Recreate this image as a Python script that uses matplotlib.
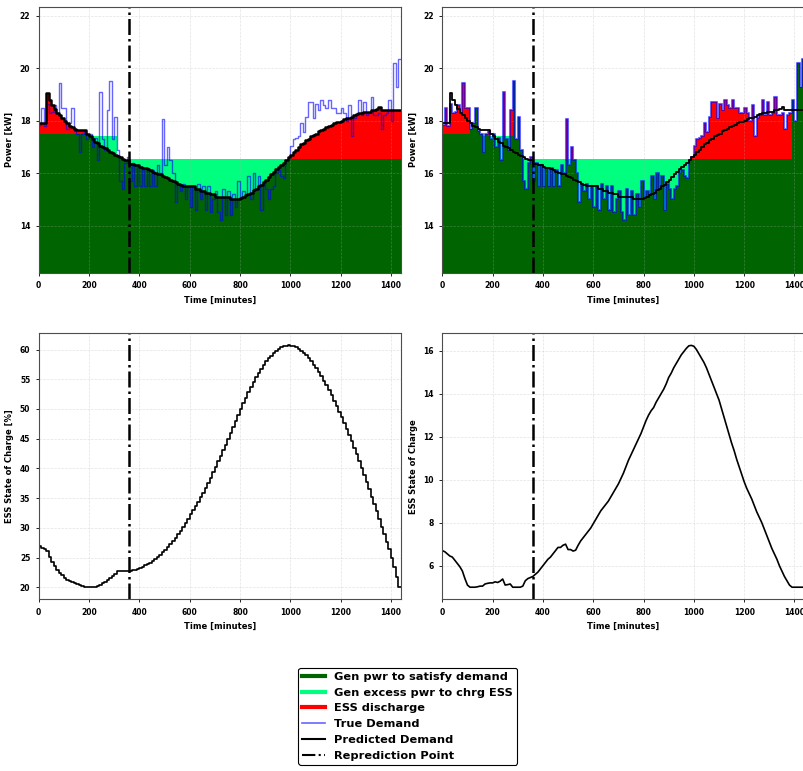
import numpy as np
import matplotlib
matplotlib.use('Agg')
import matplotlib.pyplot as plt
from matplotlib.lines import Line2D
from matplotlib.ticker import MultipleLocator

plt.rcParams['font.family'] = 'DejaVu Sans'
plt.rcParams['font.weight'] = 'bold'
plt.rcParams['axes.labelweight'] = 'bold'

# 10-minute resolution over one day
STEP = 10
REPRED_T = 360

true_demand = [
    17.85, 18.5, 17.8, 18.65, 18.3, 18.35, 18.6, 18.3, 19.45, 18.5,
    18.5, 17.7, 17.9, 18.5, 17.6, 17.5, 16.8, 17.5, 17.6, 17.3,
    17.5, 17.0, 17.35, 16.5, 19.1, 17.3, 16.9, 18.4, 19.5, 17.3,
    18.15, 16.9, 15.7, 15.4, 16.4, 16.6, 15.7, 16.4, 15.5, 16.3,
    15.5, 16.2, 15.5, 16.2, 15.5, 16.1, 15.5, 16.3, 16.0, 18.05,
    16.3, 17.0, 16.5, 16.0, 14.9, 15.6, 15.3, 15.6, 15.0, 15.5,
    14.7, 15.5, 14.6, 15.6, 15.0, 15.5, 14.6, 15.5, 14.5, 15.0,
    15.3, 14.5, 14.2, 15.4, 14.4, 15.3, 14.4, 15.2, 14.7, 15.7,
    15.1, 15.3, 15.2, 15.9, 15.0, 16.0, 15.4, 15.9, 14.6, 15.6,
    15.4, 15.0, 15.4, 15.5, 16.0, 16.1, 15.9, 15.8, 16.5, 16.6,
    17.05, 17.3, 17.35, 17.4, 17.9, 17.55, 18.15, 18.7, 18.7, 18.1,
    18.65, 18.4, 18.8, 18.6, 18.5, 18.8, 18.5, 18.5, 18.3, 18.3,
    18.5, 18.3, 18.0, 18.6, 17.4, 18.1, 18.2, 18.8, 18.2, 18.7,
    18.2, 18.3, 18.9, 18.2, 18.2, 18.3, 17.7, 18.2, 18.3, 18.8,
    18.0, 20.2, 19.3, 20.35,
]

pred_demand = [
    17.9, 17.9, 17.9, 19.05, 18.8, 18.6, 18.45, 18.3, 18.2, 18.1,
    18.0, 17.9, 17.8, 17.75, 17.7, 17.65, 17.65, 17.65, 17.65, 17.5,
    17.4, 17.3, 17.2, 17.15, 17.05, 17.0, 16.95, 16.9, 16.8, 16.75,
    16.7, 16.65, 16.6, 16.55, 16.5, 16.5, 16.35, 16.35, 16.3, 16.3,
    16.25, 16.2, 16.2, 16.15, 16.1, 16.05, 16.0, 15.95, 15.95, 15.9,
    15.85, 15.8, 15.75, 15.7, 15.65, 15.6, 15.55, 15.5, 15.5, 15.5,
    15.5, 15.5, 15.4, 15.4, 15.3, 15.3, 15.25, 15.25, 15.2, 15.2,
    15.1, 15.1, 15.1, 15.1, 15.1, 15.1, 15.0, 15.0, 15.0, 15.0,
    15.05, 15.1, 15.15, 15.2, 15.25, 15.35, 15.4, 15.5, 15.55, 15.65,
    15.75, 15.85, 15.95, 16.05, 16.15, 16.25, 16.3, 16.4, 16.5, 16.6,
    16.7, 16.8, 16.9, 17.0, 17.1, 17.15, 17.25, 17.3, 17.4, 17.45,
    17.5, 17.6, 17.65, 17.7, 17.75, 17.8, 17.85, 17.9, 17.95, 17.95,
    18.0, 18.05, 18.1, 18.1, 18.15, 18.2, 18.25, 18.3, 18.3, 18.35,
    18.35, 18.35, 18.4, 18.4, 18.45, 18.52, 18.42, 18.42, 18.42, 18.42,
    18.42, 18.42, 18.42, 18.42,
]

# generator output against the predicted demand
gen_plan = ([17.5] * 20 + [17.43] * 11
            + [16.65, 16.6, 16.55, 16.5, 16.5] + [16.53] * 108)

# generator output against the true demand
gen_actual = ([17.5] * 11
              + [17.7, 17.9, 18.5, 17.6, 17.5, 17.43, 17.5, 17.43, 17.43, 17.5,
                 17.43, 17.43, 17.43, 17.43, 17.43, 17.43, 17.43, 19.5, 17.3,
                 18.15, 16.9]
              + [16.53] * 107 + [18.8, 18.0, 20.2, 19.3, 20.35])

soc_plan = [
    26.9, 26.65, 26.4, 26.15, 25.15, 24.3, 23.6, 22.98, 22.46, 22.0,
    21.6, 21.28, 21.01, 20.81, 20.64, 20.51, 20.35, 20.22, 20.1, 20.0,
    20.0, 20.02, 20.10, 20.24, 20.41, 20.63, 20.89, 21.18, 21.50, 21.88,
    22.29, 22.73, 22.73, 22.73, 22.73, 22.73, 22.73, 22.85, 22.97, 23.12,
    23.27, 23.46, 23.68, 23.90, 24.15, 24.44, 24.76, 25.11, 25.50, 25.89,
    26.31, 26.76, 27.25, 27.77, 28.32, 28.91, 29.53, 30.18, 30.87, 31.55,
    32.24, 32.92, 33.61, 34.36, 35.11, 35.93, 36.75, 37.60, 38.45, 39.33,
    40.21, 41.16, 42.11, 43.06, 44.01, 44.96, 45.91, 46.93, 47.95, 48.97,
    49.99, 50.97, 51.92, 52.84, 53.72, 54.57, 55.35, 56.10, 56.78, 57.43,
    58.02, 58.54, 58.99, 59.38, 59.70, 60.1, 60.35, 60.55, 60.68, 60.7,
    60.65, 60.54, 60.36, 60.11, 59.80, 59.42, 59.01, 58.53, 58.02, 57.44,
    56.83, 56.18, 55.47, 54.73, 53.95, 53.14, 52.30, 51.42, 50.51, 49.57,
    48.63, 47.65, 46.64, 45.60, 44.56, 43.48, 42.37, 41.23, 40.05, 38.87,
    37.66, 36.45, 35.24, 34.00, 32.76, 31.48, 30.16, 28.90, 27.64, 26.38,
    25.0, 23.4, 21.7, 20.0, 20.0,
]

soc_actual = [
    6.7, 6.65, 6.55, 6.45, 6.4, 6.25, 6.1, 5.95, 5.75, 5.4,
    5.1, 5.0, 5.0, 5.0, 5.02, 5.05, 5.05, 5.15, 5.18, 5.2,
    5.2, 5.25, 5.22, 5.28, 5.38, 5.1, 5.12, 5.15, 5.0, 5.0,
    5.0, 5.0, 5.05, 5.3, 5.4, 5.45, 5.5, 5.6, 5.7, 5.85,
    6.0, 6.15, 6.3, 6.4, 6.55, 6.7, 6.85, 6.85, 6.95, 7.0,
    6.75, 6.75, 6.68, 6.72, 6.95, 7.15, 7.3, 7.45, 7.6, 7.75,
    7.95, 8.15, 8.35, 8.55, 8.7, 8.85, 9.0, 9.2, 9.4, 9.6,
    9.8, 10.05, 10.3, 10.6, 10.9, 11.15, 11.4, 11.65, 11.9, 12.15,
    12.45, 12.75, 13.0, 13.2, 13.35, 13.6, 13.8, 14.0, 14.2, 14.45,
    14.75, 14.95, 15.2, 15.4, 15.6, 15.8, 15.95, 16.1, 16.22, 16.24,
    16.2, 16.05, 15.85, 15.65, 15.45, 15.2, 14.9, 14.6, 14.3, 14.0,
    13.7, 13.3, 12.9, 12.5, 12.1, 11.7, 11.35, 10.95, 10.6, 10.25,
    9.9, 9.6, 9.35, 9.1, 8.8, 8.5, 8.25, 8.0, 7.7, 7.4,
    7.1, 6.8, 6.55, 6.3, 6.0, 5.75, 5.5, 5.3, 5.1, 5.0,
    5.0, 5.0, 5.0, 5.0, 5.0,
]

t = np.arange(0, 1441, STEP)


def ext(v):
    v = np.asarray(v, dtype=float)
    return np.append(v, v[-1])


def power_panel(ax, demand, gen, true_lw, pred_lw):
    d = ext(demand)
    g = ext(gen)
    ax.fill_between(t, 0, np.minimum(d, g), step='post', color='darkgreen', lw=0)
    ax.fill_between(t, d, np.maximum(g, d), step='post', color='springgreen', lw=0)
    ax.fill_between(t, g, np.maximum(d, g), step='post', color='red', lw=0)
    ax.plot(t, ext(true_demand), drawstyle='steps-post', color='blue', alpha=0.6, lw=true_lw)
    ax.plot(t, ext(pred_demand), drawstyle='steps-post', color='black', lw=pred_lw)
    ax.axvline(REPRED_T, color='black', ls='-.', lw=1.8)
    ax.set_ylim(min(true_demand) - 2, max(true_demand) + 2)
    ax.yaxis.set_major_locator(MultipleLocator(2))
    ax.set_ylabel('Power [kW]', fontsize=6)


def finish(ax):
    ax.set_xlim(0, 1440)
    ax.xaxis.set_major_locator(MultipleLocator(200))
    ax.set_xlabel('Time [minutes]', fontsize=6)
    ax.tick_params(labelsize=5.5, length=2.5, width=0.6)
    ax.grid(True, ls='--', lw=0.5, alpha=0.35)
    for s in ax.spines.values():
        s.set_linewidth(0.8)
        s.set_color('0.3')


fig = plt.figure(figsize=(8.04, 7.71), dpi=100)
ax1 = fig.add_axes([0.0481, 0.6463, 0.4506, 0.345])
ax2 = fig.add_axes([0.5501, 0.6463, 0.4506, 0.345])
ax3 = fig.add_axes([0.0481, 0.2227, 0.4506, 0.345])
ax4 = fig.add_axes([0.5501, 0.2227, 0.4506, 0.345])

power_panel(ax1, pred_demand, gen_plan, 1.0, 1.8)
power_panel(ax2, true_demand, gen_actual, 1.5, 1.3)

ax3.plot(t, soc_plan, drawstyle='steps-post', color='black', lw=1.2)
ax3.axvline(REPRED_T, color='black', ls='-.', lw=1.8)
ax3.yaxis.set_major_locator(MultipleLocator(5))
ax3.set_ylabel('ESS State of Charge [%]', fontsize=6)

ax4.plot(t, soc_actual, color='black', lw=1.2)
ax4.axvline(REPRED_T, color='black', ls='-.', lw=1.8)
ax4.yaxis.set_major_locator(MultipleLocator(2))
ax4.set_ylabel('ESS State of Charge', fontsize=6)

for ax in (ax1, ax2, ax3, ax4):
    finish(ax)

handles = [
    Line2D([], [], color='darkgreen', lw=3),
    Line2D([], [], color='springgreen', lw=3),
    Line2D([], [], color='red', lw=3),
    Line2D([], [], color='blue', alpha=0.6, lw=1.2),
    Line2D([], [], color='black', lw=1.5),
    Line2D([], [], color='black', ls='-.', lw=1.5),
]
labels = ['Gen pwr to satisfy demand', 'Gen excess pwr to chrg ESS', 'ESS discharge',
          'True Demand', 'Predicted Demand', 'Reprediction Point']
leg = fig.legend(handles, labels, loc='lower center', bbox_to_anchor=(0.507, 0.001),
                 prop={'size': 8.2, 'weight': 'bold'}, framealpha=1, fancybox=True,
                 borderpad=0.35, labelspacing=0.5)
leg.get_frame().set_edgecolor('black')
leg.get_frame().set_linewidth(0.8)

fig.savefig('out.png', dpi=100)
